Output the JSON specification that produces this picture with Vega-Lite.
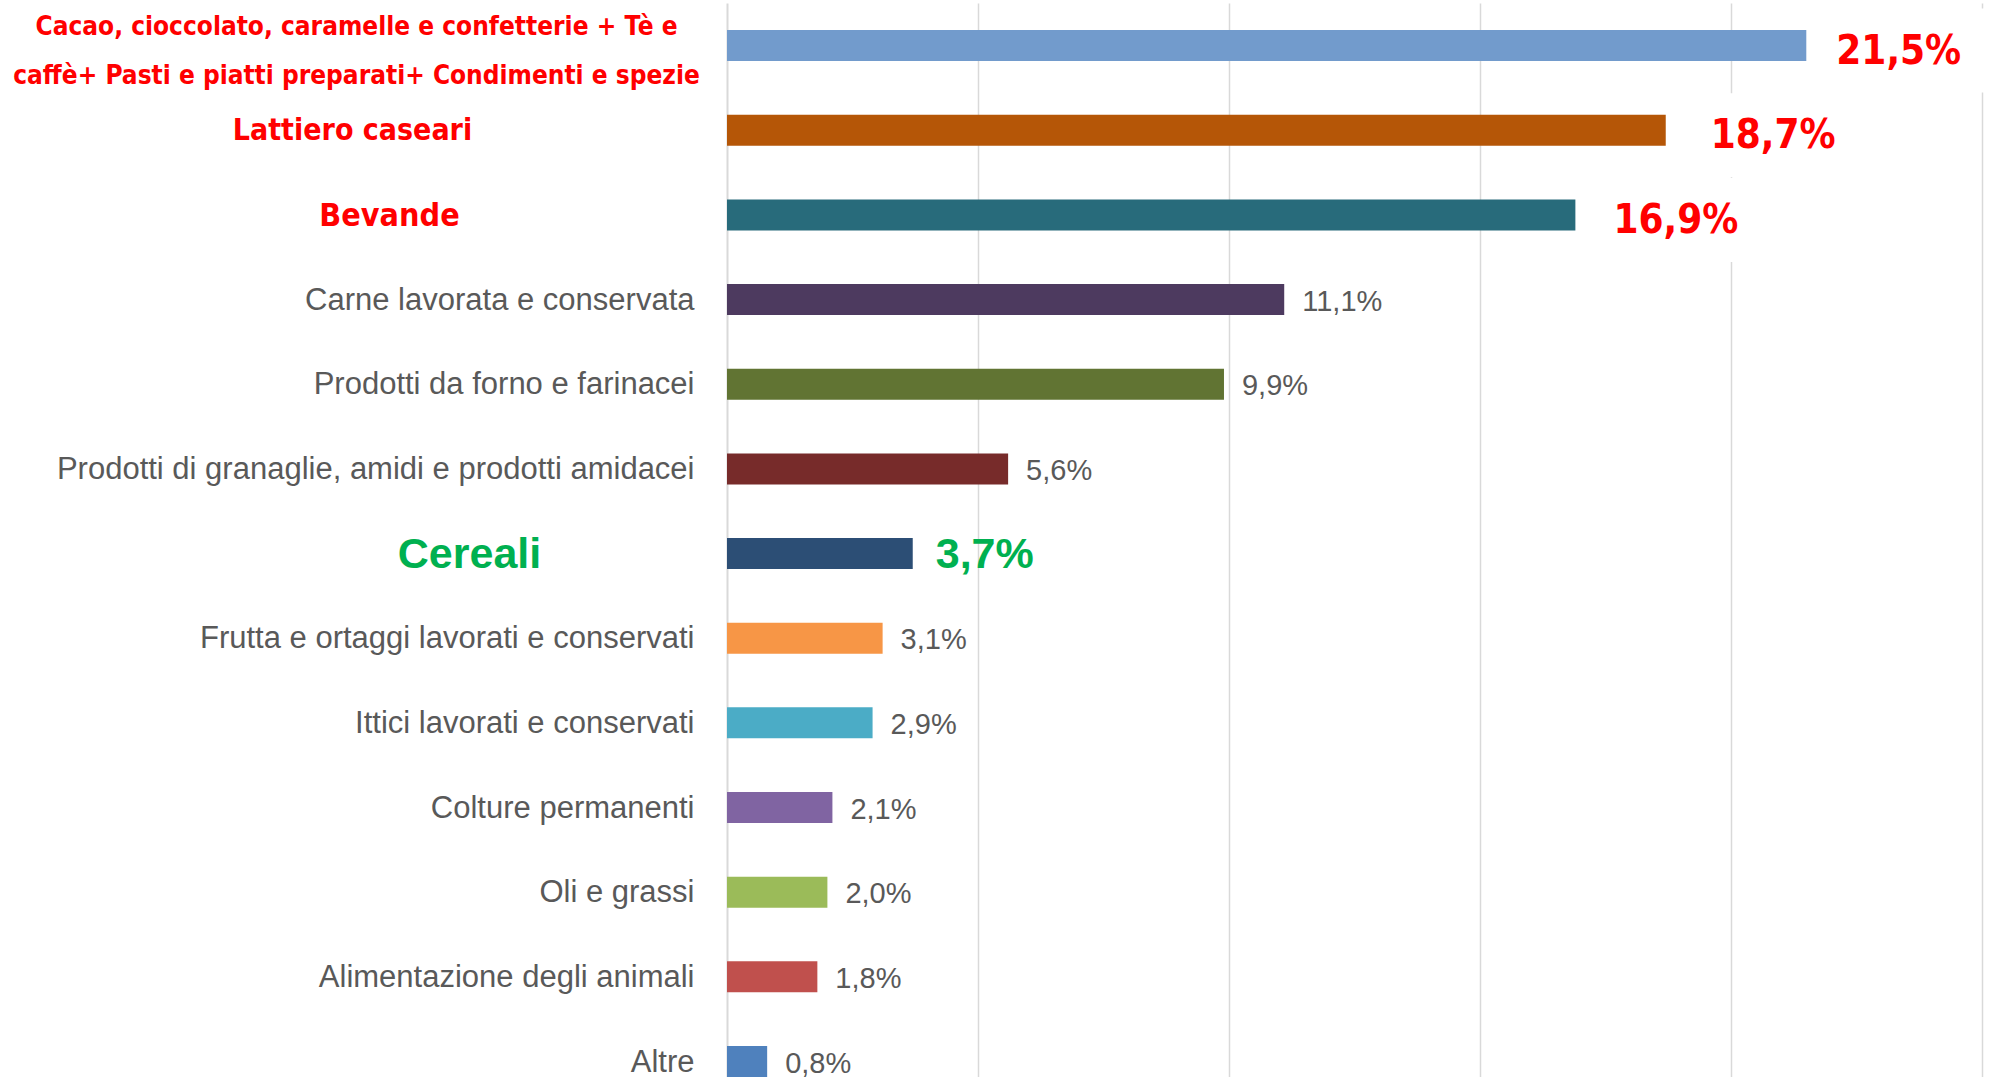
{
  "$schema": "https://vega.github.io/schema/vega-lite/v6.json",
  "width": 1255,
  "height": 1074,
  "autosize": "none",
  "padding": {"left": 727, "top": 3, "right": 29, "bottom": 0},
  "background": "white",
  "config": {
    "view": {"stroke": null},
    "locale": {"number": {"decimal": ",", "thousands": ".", "grouping": [3], "currency": ["", " €"]}}
  },
  "data": {
    "values": [
      {"cat": "Cacao, cioccolato, caramelle e confetterie + Tè e caffè+ Pasti e piatti preparati+ Condimenti e spezie", "v": 0.215},
      {"cat": "Lattiero caseari", "v": 0.187},
      {"cat": "Bevande", "v": 0.169},
      {"cat": "Carne lavorata e conservata", "v": 0.111},
      {"cat": "Prodotti da forno e farinacei", "v": 0.099},
      {"cat": "Prodotti di granaglie, amidi e prodotti amidacei", "v": 0.056},
      {"cat": "Cereali", "v": 0.037},
      {"cat": "Frutta e ortaggi lavorati e conservati", "v": 0.031},
      {"cat": "Ittici lavorati e conservati", "v": 0.029},
      {"cat": "Colture permanenti", "v": 0.021},
      {"cat": "Oli e grassi", "v": 0.020},
      {"cat": "Alimentazione degli animali", "v": 0.018},
      {"cat": "Altre", "v": 0.008}
    ]
  },
  "encoding": {
    "y": {
      "field": "cat",
      "type": "nominal",
      "sort": null,
      "scale": {"paddingInner": 0.634, "paddingOuter": 0.16, "align": 1},
      "axis": {
        "title": null,
        "domainColor": "#d9d9d9",
        "domainWidth": 2,
        "ticks": false,
        "labelLimit": 2000,
        "labelOverlap": false,
        "labelLineHeight": 49,
        "labelBaseline": "middle",
        "labelExpr": "indexof(datum.value,'Cacao')==0 ? ['Cacao, cioccolato, caramelle e confetterie + Tè e', 'caffè+ Pasti e piatti preparati+ Condimenti e spezie'] : datum.label",
        "labelColor": {"expr": "datum.value=='Cereali' ? '#00B050' : (indexof(datum.value,'Cacao')==0 || datum.value=='Lattiero caseari' || datum.value=='Bevande') ? '#FF0000' : '#595959'"},
        "labelFont": {"expr": "(indexof(datum.value,'Cacao')==0 || datum.value=='Lattiero caseari' || datum.value=='Bevande') ? 'DejaVu Sans Condensed' : 'Liberation Sans'"},
        "labelFontSize": {"expr": "datum.value=='Cereali' ? 43 : indexof(datum.value,'Cacao')==0 ? 26 : datum.value=='Bevande' ? 32 : datum.value=='Lattiero caseari' ? 30 : 31"},
        "labelFontWeight": {"expr": "(datum.value=='Cereali' || indexof(datum.value,'Cacao')==0 || datum.value=='Lattiero caseari' || datum.value=='Bevande') ? 'bold' : 'normal'"},
        "labelAlign": {"expr": "(indexof(datum.value,'Cacao')==0 || datum.value=='Lattiero caseari' || datum.value=='Bevande' || datum.value=='Cereali') ? 'center' : 'right'"},
        "labelPadding": {"expr": "indexof(datum.value,'Cacao')==0 ? 371 : datum.value=='Lattiero caseari' ? 375 : datum.value=='Bevande' ? 338 : datum.value=='Cereali' ? 258 : 33"},
        "labelOffset": {"expr": "indexof(datum.value,'Cacao')==0 ? -19 : 1"}
      }
    },
    "x": {
      "field": "v",
      "type": "quantitative",
      "scale": {"domain": [0, 0.25], "nice": false},
      "axis": {
        "title": null,
        "labels": false,
        "ticks": false,
        "domain": false,
        "grid": true,
        "gridColor": "#d9d9d9",
        "gridWidth": 1.5,
        "values": [0.05, 0.1, 0.15, 0.2, 0.25]
      }
    }
  },
  "layer": [
    {
      "mark": {"type": "bar"},
      "encoding": {
        "color": {
          "field": "cat",
          "type": "nominal",
          "sort": null,
          "legend": null,
          "scale": {"range": ["#729BCC", "#B55607", "#286B7B", "#4D3A5F", "#617433", "#772B2A", "#2C4E75", "#F79646", "#4BACC6", "#8064A2", "#9BBB59", "#C0504D", "#4F81BD"]}
        }
      }
    },
    {
      "transform": [{"filter": "indexof(datum.cat,'Cacao')==0 || datum.cat=='Lattiero caseari' || datum.cat=='Bevande'"}],
      "mark": {"type": "rect", "color": "white", "xOffset": 10, "x2Offset": 190, "height": 84, "yOffset": 5},
      "encoding": {"x2": {"field": "v"}}
    },
    {
      "transform": [{"filter": "indexof(datum.cat,'Cacao')!=0 && datum.cat!='Lattiero caseari' && datum.cat!='Bevande' && datum.cat!='Cereali'"}],
      "mark": {"type": "text", "align": "left", "baseline": "middle", "dx": 18, "dy": 2, "font": "Liberation Sans", "fontSize": 29, "color": "#595959"},
      "encoding": {"text": {"field": "v", "type": "quantitative", "format": ".1%"}}
    },
    {
      "transform": [{"filter": "indexof(datum.cat,'Cacao')==0 || datum.cat=='Lattiero caseari' || datum.cat=='Bevande'"}],
      "mark": {"type": "text", "align": "left", "baseline": "middle", "dx": {"expr": "datum.cat=='Lattiero caseari' ? 45 : datum.cat=='Bevande' ? 38 : 30"}, "dy": 6, "font": "DejaVu Sans Condensed", "fontWeight": "bold", "fontSize": 40, "color": "#FF0000"},
      "encoding": {"text": {"field": "v", "type": "quantitative", "format": ".1%"}}
    },
    {
      "transform": [{"filter": "datum.cat=='Cereali'"}],
      "mark": {"type": "text", "align": "left", "baseline": "middle", "dx": 23, "dy": 1, "font": "Liberation Sans", "fontWeight": "bold", "fontSize": 43, "color": "#00B050"},
      "encoding": {"text": {"field": "v", "type": "quantitative", "format": ".1%"}}
    }
  ]
}
